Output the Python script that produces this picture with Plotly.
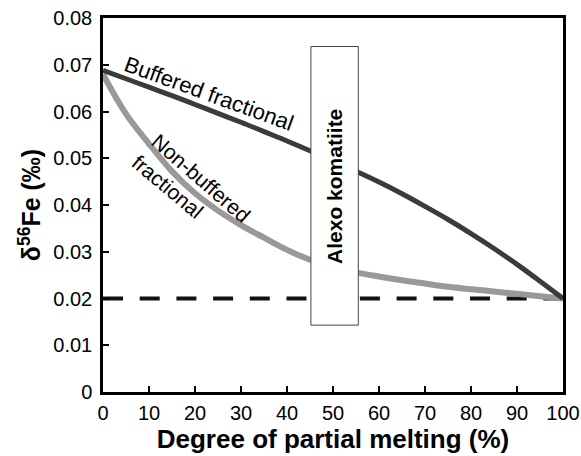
import plotly.graph_objects as go

# Degree of partial melting (%)
melt = [0, 5, 10, 15, 20, 25, 30, 35, 40, 45, 50, 55, 60, 65, 70, 75, 80, 85, 90, 95, 100]

# delta56Fe of the melt (permil) for the two melting models
buffered = [0.0688, 0.0670, 0.0652, 0.0634, 0.0615, 0.0596, 0.0577, 0.0557, 0.0537, 0.0516,
            0.0494, 0.0472, 0.0449, 0.0424, 0.0397, 0.0369, 0.0339, 0.0307, 0.0273, 0.0237, 0.0200]
non_buffered = [0.0680, 0.0595, 0.0531, 0.0472, 0.0425, 0.0388, 0.0357, 0.0330, 0.0304, 0.0283,
                0.0268, 0.0256, 0.0247, 0.0239, 0.0232, 0.0225, 0.0220, 0.0215, 0.0210, 0.0205, 0.0200]

# Source value and the Alexo komatiite window
source_value = 0.020
alexo_melt = [45.2, 55.5]
alexo_d56fe = [0.0143, 0.0739]

x_ticks = [0, 10, 20, 30, 40, 50, 60, 70, 80, 90, 100]
y_ticks = [0, 0.01, 0.02, 0.03, 0.04, 0.05, 0.06, 0.07, 0.08]
y_tick_text = ["0", "0.01", "0.02", "0.03", "0.04", "0.05", "0.06", "0.07", "0.08"]

FONT = "Liberation Sans, Arial, Helvetica, sans-serif"

fig = go.Figure()

fig.add_trace(go.Scatter(
    x=[melt[0], melt[-1]], y=[source_value, source_value], mode="lines",
    line=dict(color="#111111", width=4, dash="20px,16.7px"), hoverinfo="skip"))

fig.add_trace(go.Scatter(
    x=melt, y=non_buffered, mode="lines", line_shape="spline",
    line=dict(color="#999999", width=6), hoverinfo="skip"))

fig.add_trace(go.Scatter(
    x=melt, y=buffered, mode="lines", line_shape="spline",
    line=dict(color="#3b3b3b", width=5), hoverinfo="skip"))

# Alexo komatiite box drawn over the curves
fig.add_shape(type="rect", xref="x", yref="y",
              x0=alexo_melt[0], x1=alexo_melt[1], y0=alexo_d56fe[0], y1=alexo_d56fe[1],
              fillcolor="white", line=dict(color="#444444", width=1), layer="above")

fig.add_annotation(x=sum(alexo_melt) / 2, y=0.0440, text="<b>Alexo komatiite</b>",
                   textangle=-90, showarrow=False,
                   font=dict(family=FONT, size=21, color="black"))

fig.add_annotation(x=23.0, y=0.0639, text="Buffered fractional", textangle=20,
                   showarrow=False, font=dict(family=FONT, size=22, color="black"))
fig.add_annotation(x=21.4, y=0.0457, text="Non-buffered", textangle=41,
                   showarrow=False, font=dict(family=FONT, size=21, color="black"))
fig.add_annotation(x=14.0, y=0.0439, text="fractional", textangle=40,
                   showarrow=False, font=dict(family=FONT, size=21, color="black"))

fig.update_layout(
    width=581, height=456,
    margin=dict(l=103, r=18, t=18, b=64),
    paper_bgcolor="white", plot_bgcolor="white",
    showlegend=False,
    font=dict(family=FONT, color="black"),
)

fig.update_xaxes(
    range=[0, 100], tickvals=x_ticks, ticks="inside", ticklen=6, tickwidth=2,
    tickcolor="black", showline=True, linecolor="black", linewidth=2.5, mirror=True,
    showgrid=False, zeroline=False, tickfont=dict(size=20), ticklabelstandoff=1,
    automargin=False,
    title=dict(text="<b>Degree of partial melting (%)</b>", font=dict(size=26), standoff=3),
)
fig.update_yaxes(
    range=[0, 0.08], tickvals=y_ticks, ticktext=y_tick_text, ticks="inside", ticklen=6,
    tickwidth=2, tickcolor="black", showline=True, linecolor="black", linewidth=2.5,
    mirror=True, showgrid=False, zeroline=False, tickfont=dict(size=20),
    ticklabelstandoff=4, automargin=False,
    title=dict(text="<b>δ<sup>56</sup>Fe (‰)</b>", font=dict(size=25), standoff=6),
)

fig.write_html("out.html")
